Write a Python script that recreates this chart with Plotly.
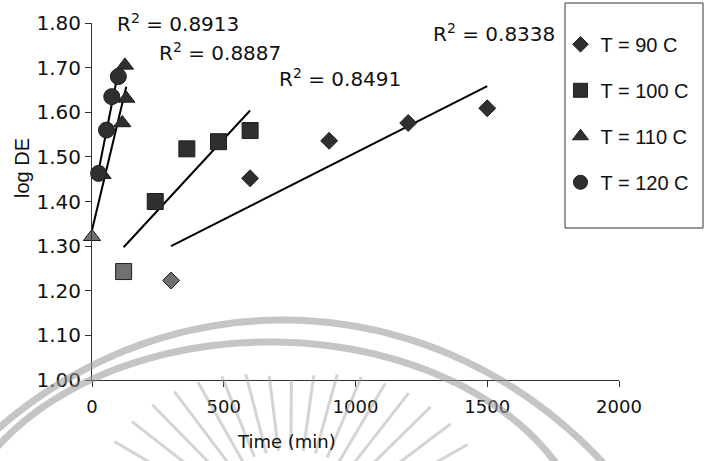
import numpy as np
import plotly.graph_objects as go

# ---- data ----
time_90 = [300, 600, 900, 1200, 1500]
logde_90 = [1.223, 1.452, 1.536, 1.576, 1.609]
time_100 = [120, 240, 360, 480, 600]
logde_100 = [1.243, 1.400, 1.518, 1.534, 1.559]
time_110 = [0, 40, 115, 130, 125]
logde_110 = [1.321, 1.460, 1.576, 1.631, 1.705]
time_120 = [25, 55, 75, 100]
logde_120 = [1.463, 1.560, 1.635, 1.680]

series_names = ["T = 90 C", "T = 100 C", "T = 110 C", "T = 120 C"]
r2_texts = ["R<sup>2</sup> = 0.8338", "R<sup>2</sup> = 0.8491",
            "R<sup>2</sup> = 0.8913", "R<sup>2</sup> = 0.8887"]
x_ticks = [0, 500, 1000, 1500, 2000]
y_ticks = [1.0, 1.1, 1.2, 1.3, 1.4, 1.5, 1.6, 1.7, 1.8]

# ---- layout geometry (pixels) ----
W, H = 704, 461
ML, MR, MT, MB = 92, 85, 23, 81
PW, PH = W - ML - MR, H - MT - MB


def px2paper(px, py):
    return (px - ML) / PW, (H - MB - py) / PH


# ---- styling ----
symbols = ["diamond", "square", "triangle-up", "circle"]
sizes = [13, 16, 15, 16]
leg_sizes = [12, 14, 14, 14]
dark = "#2f2f2f"
light = "#707070"
r2_pix = [(494, 33), (340, 78), (178, 23), (220, 52)]

series = [(time_90, logde_90), (time_100, logde_100),
          (time_110, logde_110), (time_120, logde_120)]

fig = go.Figure()

# trendlines (linear least squares over each series' range)
for (xs, ys) in series:
    xs_a = np.array(xs, dtype=float)
    ys_a = np.array(ys, dtype=float)
    m, b = np.polyfit(xs_a, ys_a, 1)
    xl = np.array([xs_a.min(), xs_a.max()])
    fig.add_trace(go.Scatter(x=xl, y=m * xl + b, mode="lines",
                             line=dict(color="black", width=2),
                             showlegend=False, hoverinfo="skip",
                             cliponaxis=False))

# data markers
for i, (xs, ys) in enumerate(series):
    cols = [light if (j == 0 and i < 3) else dark for j in range(len(xs))]
    fig.add_trace(go.Scatter(
        x=xs, y=ys, mode="markers", name=series_names[i],
        showlegend=False,
        marker=dict(symbol=symbols[i], size=sizes[i], color=cols,
                    line=dict(color="#1e1e1e", width=1)),
        cliponaxis=False))

# legend entries
for i in range(4):
    fig.add_trace(go.Scatter(
        x=[None], y=[None], mode="markers", name=series_names[i],
        legendgroup=series_names[i],
        marker=dict(symbol=symbols[i], size=leg_sizes[i], color=dark,
                    line=dict(color="#1e1e1e", width=1))))

# R^2 labels
for txt, (px, py) in zip(r2_texts, r2_pix):
    ax, ay = px2paper(px, py)
    fig.add_annotation(x=ax, y=ay, xref="paper", yref="paper", text=txt,
                       showarrow=False, xanchor="center", yanchor="middle",
                       font=dict(family="DejaVu Sans", size=20, color="#111"))

# axis titles
tx, ty = px2paper(286, 441)
fig.add_annotation(x=tx, y=ty, xref="paper", yref="paper",
                   text="Time (min)", showarrow=False,
                   xanchor="center", yanchor="middle",
                   font=dict(family="DejaVu Sans", size=18, color="#111"))
lx, ly = px2paper(22, 168)
fig.add_annotation(x=lx, y=ly, xref="paper", yref="paper",
                   text="log DE", showarrow=False, textangle=-90,
                   xanchor="center", yanchor="middle",
                   font=dict(family="Liberation Sans", size=20, color="#111"))

# legend box
bx0, by0 = px2paper(565, 228)
bx1, by1 = px2paper(703, 3)
fig.add_shape(type="rect", xref="paper", yref="paper",
              x0=bx0, x1=bx1, y0=by0, y1=by1,
              line=dict(color="#333", width=1), fillcolor="white", layer="below")


# faint seal watermark of the scanned page
def ell_path(cx, cy, rx, ry, a0, a1, n=80):
    t = np.linspace(np.radians(a0), np.radians(a1), n)
    pts = [px2paper(cx + rx * np.cos(a), cy - ry * np.sin(a)) for a in t]
    return "M " + " L ".join(f"{p[0]:.4f},{p[1]:.4f}" for p in pts)


wm = "rgba(150,150,150,0.55)"
fig.add_shape(type="path", xref="paper", yref="paper",
              path=ell_path(283, 801, 450, 481, 20, 160),
              line=dict(color=wm, width=7), layer="above")
fig.add_shape(type="path", xref="paper", yref="paper",
              path=ell_path(270, 562, 320, 220, 0, 180),
              line=dict(color=wm, width=7), layer="above")
for ang in np.arange(22, 160, 7.5):
    a = np.radians(ang)
    r_out = 165 + 45 * abs(np.cos(a))
    r_in = 95
    x0p, y0p = px2paper(290 + r_in * np.cos(a), 545 - r_in * np.sin(a))
    x1p, y1p = px2paper(290 + r_out * np.cos(a), 545 - r_out * np.sin(a))
    fig.add_shape(type="line", xref="paper", yref="paper",
                  x0=x0p, y0=y0p, x1=x1p, y1=y1p,
                  line=dict(color="rgba(160,160,160,0.45)", width=3),
                  layer="above")

fig.update_layout(
    width=W, height=H,
    margin=dict(l=ML, r=MR, t=MT, b=MB, autoexpand=False),
    paper_bgcolor="white", plot_bgcolor="rgba(0,0,0,0)",
    showlegend=True,
    legend=dict(x=0.889, y=0.995, xanchor="left", yanchor="top",
                bgcolor="rgba(0,0,0,0)", borderwidth=0,
                tracegroupgap=17,
                font=dict(family="Liberation Sans", size=20, color="#111")),
    xaxis=dict(range=[0, 2000], tickvals=x_ticks,
               ticktext=[str(v) for v in x_ticks],
               showgrid=False, zeroline=False, showline=True,
               linecolor="#333", linewidth=1, ticks="outside", ticklen=6,
               tickcolor="#333", ticklabelstandoff=4,
               tickfont=dict(family="DejaVu Sans", size=18, color="#111")),
    yaxis=dict(range=[1.0, 1.8], tickvals=y_ticks,
               ticktext=[f"{v:.2f}" for v in y_ticks],
               showgrid=False, zeroline=False, showline=True,
               linecolor="#333", linewidth=1, ticks="outside", ticklen=6,
               tickcolor="#333",
               tickfont=dict(family="DejaVu Sans", size=20, color="#111")),
)

fig.write_html("out.html",
               config={"displayModeBar": False},
               post_script="document.body.style.margin='0px';"
                           "document.body.style.overflow='hidden';")
